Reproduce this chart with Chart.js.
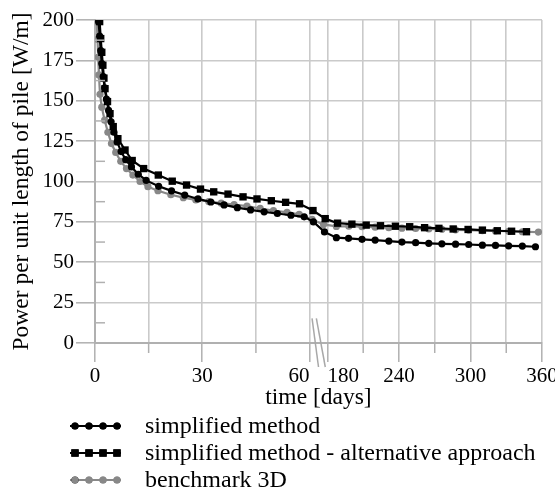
<!DOCTYPE html>
<html>
<head>
<meta charset="utf-8">
<script src="https://cdn.jsdelivr.net/npm/chart.js@4.4.1/dist/chart.umd.min.js"></script>
<style>
    html, body { margin: 0; padding: 0; background: #fff; }
</style>
</head>
<body>
<canvas id="powerChart" width="555" height="492"></canvas>
<script>
// time in days, power in W/m
const simpleDays = [1.0, 1.3, 1.6, 1.9, 2.3, 2.7, 3.2, 3.8, 4.5, 5.3, 6.2, 7.3, 8.6, 10.2, 12.1, 14.3, 17.8, 21.4, 25.1, 28.8,
    32.4, 36.1, 39.8, 43.5, 47.3, 51, 54.8, 58.5, 86, 160, 187.5, 197.7, 209, 220, 231.5, 242.5, 254, 265, 276, 287.5,
    298.5, 310, 321, 332, 343.5, 354.5];
const simpleValues = [199, 190, 181, 173, 165, 158, 151, 144, 137, 130.5, 124.5, 118.5, 113.5, 109, 104.5, 100.7, 97, 94.2, 91.6, 89.2,
    87.3, 85.5, 83.8, 82.4, 81.2, 80.2, 79.1, 78.1, 75, 68.8, 65.2, 64.8, 64.2, 63.7, 63.1, 62.5, 62.1, 61.7, 61.4, 61.2,
    61, 60.6, 60.4, 60.2, 60, 59.6];

const altDays = [1.3, 1.6, 1.9, 2.2, 2.5, 2.8, 3.5, 4.2, 5.1, 6.4, 8.4, 10.4, 13.6, 17.7, 21.6, 25.6, 29.5, 33.2, 37.2, 41.4,
    45.3, 49.3, 53.3, 57.2, 83, 165, 188.5, 200.5, 212.5, 224.5, 237, 249, 261.5, 273.5, 285.5, 298, 310, 322.5, 334.5, 347];
const altValues = [199, 188.5, 180, 172, 164, 157.5, 149.5, 142, 134, 126.5, 119.5, 113, 108, 104, 100.2, 97.8, 95.3, 93.6, 92.2, 90.5,
    89.2, 88.1, 87.1, 86.2, 82, 77, 74.2, 73.6, 73, 72.6, 72.3, 72, 71.4, 71, 70.6, 70.3, 69.9, 69.5, 69.2, 68.9];

const benchDays = [0.5, 0.7, 0.9, 1.1, 1.4, 1.9, 2.7, 3.6, 4.6, 5.8, 7.2, 8.8, 10.6, 12.6, 14.8, 17.6, 21.2, 24.7, 28.2, 31.8,
    35.3, 38.9, 42.5, 46.2, 49.9, 53.7, 57.1, 77, 154, 187.5, 198, 209, 220, 231.5, 242.5, 254, 265, 276, 287.5, 298.5,
    310, 321, 332, 343.5, 357];
const benchValues = [199, 188, 177, 166, 154, 146, 138, 130.5, 123.5, 118, 112.5, 108, 104, 100, 96.8, 94.3, 91.8, 90, 88.6, 87.6,
    86.6, 85.7, 84.8, 83.3, 82, 80.9, 79.7, 76.5, 73.4, 72.2, 72.3, 72, 71.7, 71.4, 71.1, 70.9, 70.6, 70.4, 70.1, 69.9,
    69.6, 69.4, 69.2, 68.9, 68.7];

const xTickDays = [0, 30, 60, 180, 240, 300, 360];
const xMinorDays = [15, 45, 210, 270, 330];
const yMinorTicks = [12.5, 37.5, 62.5, 87.5, 112.5, 137.5, 162.5, 187.5];

const legendLabels = ['simplified method', 'simplified method - alternative approach', 'benchmark 3D'];

const serif = '"Liberation Serif", "Times New Roman", serif';
const gridGrey = '#cacaca';
const axisGrey = '#b0b0b0';

// broken axis: 0-60 days, then a short gap, then 180-360 days at a third of the scale
function toU(d) {
    if (d <= 60) return d;
    if (d < 180) return 60 + (d - 60) / 24;
    return 65 + (d - 180) / 3;
}

function toPoints(days, values) {
    return days.map(function (d, i) {
        return { x: toU(d), y: values[i] };
    });
}

const majorU = xTickDays.map(toU);

const extrasPlugin = {
    id: 'extras',
    afterDraw: function (chart) {
        const ctx = chart.ctx;
        const xs = chart.scales.x;
        const ys = chart.scales.y;
        ctx.save();

        // minor tick marks
        ctx.strokeStyle = axisGrey;
        ctx.lineWidth = 1.5;
        xMinorDays.forEach(function (d) {
            const px = xs.getPixelForValue(toU(d));
            ctx.beginPath();
            ctx.moveTo(px, ys.bottom);
            ctx.lineTo(px, ys.bottom + 10);
            ctx.stroke();
        });
        yMinorTicks.forEach(function (v) {
            const py = ys.getPixelForValue(v);
            ctx.beginPath();
            ctx.moveTo(xs.left, py);
            ctx.lineTo(xs.left + 10, py);
            ctx.stroke();
        });

        // break marks
        ctx.strokeStyle = '#a8a8a8';
        [[60.7, 62.5], [61.9, 64.4]].forEach(function (p) {
            ctx.beginPath();
            ctx.moveTo(xs.getPixelForValue(p[0]), ys.getPixelForValue(15.3));
            ctx.lineTo(xs.getPixelForValue(p[1]), ys.bottom + 24);
            ctx.stroke();
        });

        // x tick labels (60 and 180 pushed apart from the break)
        ctx.fillStyle = '#000';
        ctx.font = '21px ' + serif;
        ctx.textBaseline = 'middle';
        xTickDays.forEach(function (d) {
            const px = xs.getPixelForValue(toU(d));
            ctx.textAlign = d === 60 ? 'right' : (d === 180 ? 'left' : 'center');
            ctx.fillText(String(d), px, ys.bottom + 33);
        });

        // legend: line with four markers
        ctx.font = '24px ' + serif;
        ctx.textAlign = 'left';
        chart.data.datasets.forEach(function (ds, i) {
            const rowY = ys.bottom + 83 + i * 27;
            ctx.strokeStyle = ds.borderColor;
            ctx.lineWidth = ds.borderWidth;
            ctx.beginPath();
            ctx.moveTo(70, rowY);
            ctx.lineTo(121, rowY);
            ctx.stroke();
            for (let k = 0; k < 4; k++) {
                Chart.helpers.drawPoint(ctx, {
                    pointStyle: ds.pointStyle,
                    radius: ds.pointRadius,
                    borderWidth: 0
                }, 75 + k * 14, rowY);
                ctx.fillStyle = ds.pointBackgroundColor;
                ctx.fill();
            }
            ctx.fillStyle = '#000';
            ctx.fillText(legendLabels[i], 145, rowY + 1);
        });

        ctx.restore();
    }
};

const powerCtx = document.getElementById('powerChart').getContext('2d');

new Chart(powerCtx, {
    type: 'line',
    data: {
        datasets: [{
            label: legendLabels[0],
            data: toPoints(simpleDays, simpleValues),
            borderColor: '#000',
            backgroundColor: '#000',
            pointBackgroundColor: '#000',
            pointBorderWidth: 0,
            pointStyle: 'circle',
            pointRadius: 3.6,
            borderWidth: 2.2,
            order: 1
        }, {
            label: legendLabels[1],
            data: toPoints(altDays, altValues),
            borderColor: '#000',
            backgroundColor: '#000',
            pointBackgroundColor: '#000',
            pointBorderWidth: 0,
            pointStyle: 'rect',
            pointRadius: 5.2,
            borderWidth: 2.2,
            order: 0
        }, {
            label: legendLabels[2],
            data: toPoints(benchDays, benchValues),
            borderColor: '#888888',
            backgroundColor: '#888888',
            pointBackgroundColor: '#888888',
            pointBorderWidth: 0,
            pointStyle: 'circle',
            pointRadius: 3.6,
            borderWidth: 2.2,
            order: 2
        }]
    },
    options: {
        responsive: false,
        animation: false,
        devicePixelRatio: 1,
        layout: { padding: { left: 4, right: 13, top: 20, bottom: 79 } },
        plugins: {
            legend: { display: false },
            tooltip: { enabled: false }
        },
        scales: {
            x: {
                type: 'linear',
                min: 0,
                max: toU(360),
                afterBuildTicks: function (scale) {
                    scale.ticks = xTickDays.concat(xMinorDays)
                        .map(toU)
                        .sort(function (a, b) { return a - b; })
                        .map(function (u) { return { value: u }; });
                },
                afterFit: function (scale) { scale.height = 70; },
                ticks: { display: false },
                grid: {
                    color: gridGrey,
                    lineWidth: 1.6,
                    tickLength: 19,
                    tickWidth: 1.5,
                    tickColor: function (c) {
                        return c.tick && majorU.indexOf(c.tick.value) >= 0 ? axisGrey : 'rgba(0,0,0,0)';
                    }
                },
                border: { color: axisGrey, width: 2 },
                title: {
                    display: true,
                    text: 'time [days]',
                    color: '#000',
                    font: { family: serif, size: 23.5 },
                    padding: { top: 0, bottom: 1 }
                }
            },
            y: {
                min: 0,
                max: 200,
                afterFit: function (scale) { scale.width = 91; },
                ticks: {
                    stepSize: 25,
                    color: '#000',
                    padding: 2,
                    font: { family: serif, size: 21 }
                },
                grid: {
                    color: gridGrey,
                    lineWidth: 1.6,
                    tickLength: 19,
                    tickWidth: 1.5,
                    tickColor: axisGrey
                },
                border: { color: axisGrey, width: 2 },
                title: {
                    display: true,
                    text: 'Power per unit length of pile [W/m]',
                    color: '#000',
                    font: { family: serif, size: 23.5 },
                    padding: { top: 4, bottom: 0 }
                }
            }
        }
    },
    plugins: [extrasPlugin]
});
</script>
</body>
</html>
